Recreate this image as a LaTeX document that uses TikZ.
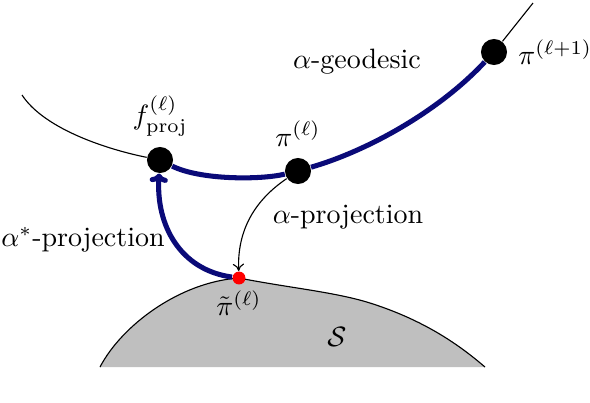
\documentclass[tikz,border=0pt]{standalone}
\usepackage{amsmath,amssymb}
\usepackage{xcolor}
\usepackage{tikz}
\usetikzlibrary{positioning, arrows.meta}

\definecolor{geoblue}{RGB}{10,10,120}
\definecolor{surfgray}{RGB}{191,191,191}

\begin{document}
\begin{tikzpicture}[
    x=0.357pt, y=-0.357pt,
    node distance=0pt,
    dot/.style={circle, fill=black, inner sep=0pt, minimum size=9.3pt},
    reddot/.style={circle, fill=red, inner sep=0pt, minimum size=4.6pt},
    geo/.style={line width=1.8pt, draw=geoblue},
    thinline/.style={line width=0.4pt},
    thinarrow/.style={-{To[length=2.6pt, width=4pt]}, thinline},
    geoarrow/.style={-{To[length=3.2pt, width=6.5pt]}, geo},
]
\useasboundingbox (0,0) rectangle (590,402);

% statistical manifold S
\draw[thinline, fill=surfgray] (100,367) .. controls (122,325) and (180,282) .. (239,278)
    .. controls (290,288) and (335,292) .. (370,303)
    .. controls (430,322) and (465,350) .. (485,367);

\node[dot] (fproj) at (160,160) {};
\node[dot] (pil) at (298,171) {};
\node[dot] (pinext) at (494,52) {};
\node[reddot] (tpi) at (239,278) {};
\coordinate (lstart) at (22,95);
\coordinate (rend) at (533,3);

\node[above=0pt of fproj] (fprojlab) {$f^{(\ell)}_{\text{proj}}$};
\node[above=0.5pt of pil] (pillab) {$\pi^{(\ell)}$};
\node[right=0.3pt of pinext] (pinextlab) {$\pi^{(\ell+1)}$};
\node[below=-1.5pt of tpi] (tpilab) {$\tilde{\pi}^{(\ell)}$};
\node (geolab) at (357,62) {$\alpha$-geodesic};
\node (aproj) at (348,217) {$\alpha$-projection};
\node (asproj) at (83,240) {$\alpha^*$-projection};
\node (surf) at (337,337) {$\mathcal{S}$};

% geodesic
\draw[thinline] (lstart) .. controls (45,130) and (110,150) .. (fproj);
\draw[thinline] (pinext) -- (rend);
\draw[geo] (fproj) .. controls (200,180) and (260,180) .. (pil);
\draw[geo] (pil) .. controls (370,150) and (440,110) .. (pinext);

% projections
\draw[thinarrow] (pil) .. controls (255,200) and (237,230) .. (tpi);
\draw[geoarrow] (tpi) .. controls (180,270) and (156,225) .. (fproj);
\end{tikzpicture}
\end{document}
